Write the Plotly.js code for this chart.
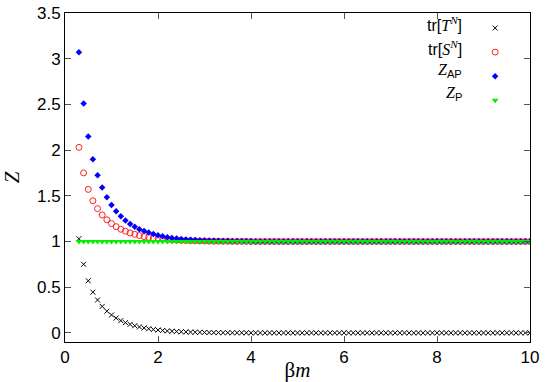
<!DOCTYPE html>
<html>
<head>
<meta charset="utf-8">
<script src="https://cdn.plot.ly/plotly-3.0.1.min.js"></script>
<style>
  html, body { margin: 0; padding: 0; background: #fff; }
  #grafico { width: 545px; height: 382px; }
</style>
</head>
<body>
<div id="grafico"></div>
<script>
// === DATI ===
// beta*m, passo 0.1
const betaM = [
  0.3,0.4,0.5,0.6,0.7,0.8,0.9,1.0,
  1.1,1.2,1.3,1.4,1.5,1.6,1.7,1.8,1.9,2.0,
  2.1,2.2,2.3,2.4,2.5,2.6,2.7,2.8,2.9,3.0,
  3.1,3.2,3.3,3.4,3.5,3.6,3.7,3.8,3.9,4.0,
  4.1,4.2,4.3,4.4,4.5,4.6,4.7,4.8,4.9,5.0,
  5.1,5.2,5.3,5.4,5.5,5.6,5.7,5.8,5.9,6.0,
  6.1,6.2,6.3,6.4,6.5,6.6,6.7,6.8,6.9,7.0,
  7.1,7.2,7.3,7.4,7.5,7.6,7.7,7.8,7.9,8.0,
  8.1,8.2,8.3,8.4,8.5,8.6,8.7,8.8,8.9,9.0,
  9.1,9.2,9.3,9.4,9.5,9.6,9.7,9.8,9.9,10.0
];

// tr[T^N]
const trT = [
  1.03,0.75,0.57,0.445,0.36,0.29,0.237,0.196,
  0.162,0.134,0.112,0.093,0.078,0.065,0.054,0.045,0.037,0.031,
  0.026,0.021,0.018,0.015,0.012,0.010,0.008,0.007,0.006,0.005,
  0.004,0.003,0.003,0.002,0.002,0.001,0.001,0.001,0.001,0,
  0,0,0,0,0,0,0,0,0,0,
  0,0,0,0,0,0,0,0,0,0,
  0,0,0,0,0,0,0,0,0,0,
  0,0,0,0,0,0,0,0,0,0,
  0,0,0,0,0,0,0,0,0,0,
  0,0,0,0,0,0,0,0,0,0
];

// tr[S^N]
const trS = [
  2.03,1.75,1.57,1.445,1.36,1.29,1.237,1.196,
  1.162,1.134,1.112,1.093,1.078,1.065,1.054,1.045,1.037,1.031,
  1.026,1.021,1.018,1.015,1.012,1.010,1.008,1.007,1.006,1.005,
  1.004,1.003,1.003,1.002,1.002,1.001,1.001,1.001,1.001,1,
  1,1,1,1,1,1,1,1,1,1,
  1,1,1,1,1,1,1,1,1,1,
  1,1,1,1,1,1,1,1,1,1,
  1,1,1,1,1,1,1,1,1,1,
  1,1,1,1,1,1,1,1,1,1,
  1,1,1,1,1,1,1,1,1,1
];

// Z_AP
const zAP = [
  3.07,2.51,2.15,1.90,1.725,1.59,1.485,1.40,
  1.33,1.275,1.23,1.19,1.16,1.135,1.115,1.098,1.082,1.068,
  1.057,1.047,1.039,1.032,1.027,1.022,1.018,1.015,1.012,1.010,
  1.008,1.007,1.006,1.005,1.004,1.003,1.003,1.002,1.002,1.002,
  1.001,1.001,1.001,1.001,1.001,1,1,1,1,1,
  1,1,1,1,1,1,1,1,1,1,
  1,1,1,1,1,1,1,1,1,1,
  1,1,1,1,1,1,1,1,1,1,
  1,1,1,1,1,1,1,1,1,1,
  1,1,1,1,1,1,1,1,1,1
];

// Z_P
const zP = [
  1,1,1,1,1,1,1,1,
  1,1,1,1,1,1,1,1,1,1,
  1,1,1,1,1,1,1,1,1,1,
  1,1,1,1,1,1,1,1,1,1,
  1,1,1,1,1,1,1,1,1,1,
  1,1,1,1,1,1,1,1,1,1,
  1,1,1,1,1,1,1,1,1,1,
  1,1,1,1,1,1,1,1,1,1,
  1,1,1,1,1,1,1,1,1,1,
  1,1,1,1,1,1,1,1,1,1
];

const xTicks = [0, 2, 4, 6, 8, 10];
const yTicks = [0, 0.5, 1, 1.5, 2, 2.5, 3, 3.5];

const serif = "'Liberation Serif', 'DejaVu Serif', serif";
const etichette = [
  "tr[<span style=\"font-family:" + serif + "\"><i>T</i><sup><i>N</i></sup></span>]",
  "tr[<span style=\"font-family:" + serif + "\"><i>S</i><sup><i>N</i></sup></span>]",
  "<span style=\"font-family:" + serif + "\"><i>Z</i></span><sub>AP</sub>",
  "<span style=\"font-family:" + serif + "\"><i>Z</i></span><sub>P</sub>"
];

// === GRAFICO ===
const tracce = [
  { x: betaM, y: trT, mode: "markers", name: "\u00a0",
    marker: { symbol: "x-thin-open", size: 5, color: "#000", line: { color: "#000", width: 1 } } },
  { x: betaM, y: trS, mode: "markers", name: "\u00a0",
    marker: { symbol: "circle-open", size: 6, color: "#ff2020", line: { color: "#ff2020", width: 1 } } },
  { x: betaM, y: zAP, mode: "markers", name: "\u00a0",
    marker: { symbol: "diamond", size: 5, color: "#0000ff", line: { width: 0 } } },
  { x: betaM, y: zP, mode: "markers", name: "\u00a0",
    marker: { symbol: "triangle-down", size: 6, color: "#00ee00", line: { width: 0 } } }
];

const assi = {
  showgrid: false, zeroline: false, showline: true, mirror: "ticks",
  linecolor: "#000", linewidth: 1, ticks: "inside", ticklen: 6,
  tickcolor: "#555", tickfont: { family: "'Liberation Sans', Arial, sans-serif", size: 17, color: "#000" }
};

const layout = {
  width: 545, height: 382,
  margin: { l: 65, r: 15, t: 11, b: 40 },
  paper_bgcolor: "#fff", plot_bgcolor: "#fff",
  showlegend: true,
  legend: {
    x: 0.882, y: 1.006, xanchor: "left", yanchor: "top",
    bgcolor: "rgba(0,0,0,0)", font: { size: 16.2 }, tracegroupgap: 0, itemwidth: 30
  },
  xaxis: Object.assign({}, assi, {
    range: [0, 10], tickvals: xTicks, ticktext: xTicks.map(String),
    title: { text: "\u03b2<i>m</i>", font: { family: serif, size: 21, color: "#000" }, standoff: 6 }
  }),
  yaxis: Object.assign({}, assi, {
    range: [-0.1, 3.5], tickvals: yTicks, ticktext: yTicks.map(String),
    title: { text: "<i>Z</i>", font: { family: serif, size: 21, color: "#000" }, standoff: 22 }
  }),
  annotations: etichette.map((t, i) => ({
    xref: "paper", yref: "paper", x: 0.858, y: [0.967, 0.895, 0.826, 0.754][i],
    xanchor: "right", yanchor: "middle", showarrow: false, text: t,
    font: { family: "'Liberation Sans', Arial, sans-serif", size: 16, color: "#000" }
  }))
};

Plotly.newPlot("grafico", tracce, layout, { staticPlot: true });
</script>
</body>
</html>
